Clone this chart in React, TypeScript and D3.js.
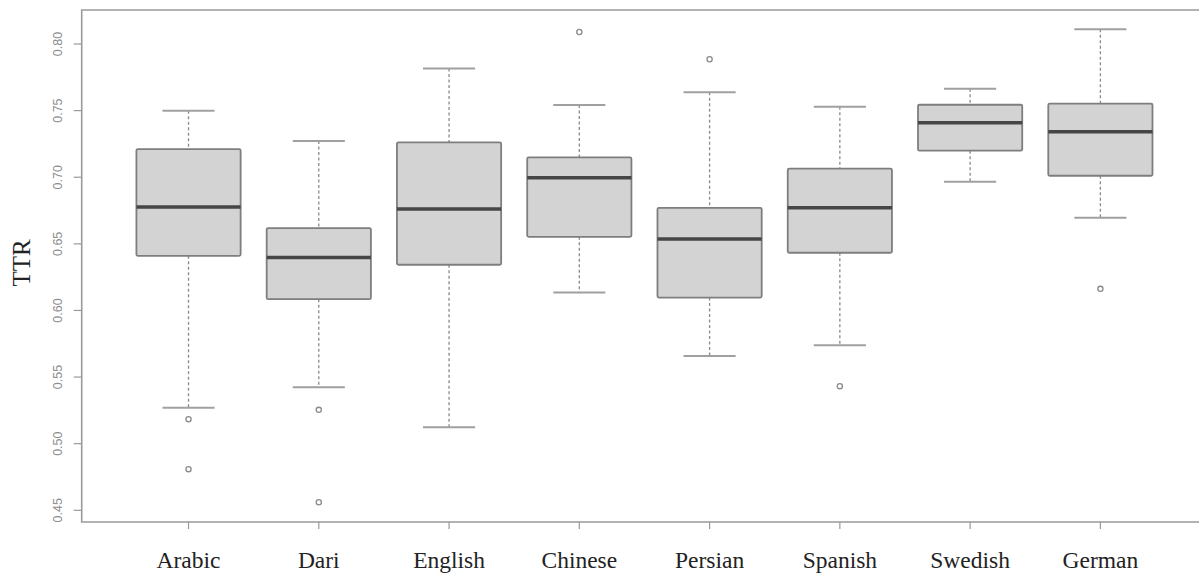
import React from "react";
import * as d3 from "d3";

const categories = ["Arabic", "Dari", "English", "Chinese", "Persian", "Spanish", "Swedish", "German"];
const whiskerLow = [0.5269, 0.5424, 0.5124, 0.6135, 0.5659, 0.5739, 0.6966, 0.6696];
const q1 = [0.641, 0.6085, 0.6343, 0.6553, 0.6097, 0.6433, 0.7199, 0.7011];
const median = [0.6776, 0.6398, 0.6761, 0.6996, 0.6537, 0.677, 0.7409, 0.7341];
const q3 = [0.7211, 0.6618, 0.7262, 0.7149, 0.677, 0.7064, 0.7544, 0.7552];
const whiskerHigh = [0.7499, 0.7272, 0.7817, 0.7542, 0.7637, 0.7529, 0.7664, 0.811];
const outliers: number[][] = [[0.5184, 0.4809], [0.5254, 0.456], [], [0.809], [0.7885], [0.5432], [], [0.6162]];
const yTicks = [0.45, 0.5, 0.55, 0.6, 0.65, 0.7, 0.75, 0.8];
const yLabel = "TTR";

export default function App() {
  const W = 1199, H = 575;
  const left = 81.7, top = 10, bottom = 522;
  const x = d3.scaleLinear().domain([0.18, 8.82]).range([left, 1207.2]);
  const y = d3.scaleLinear().domain([0.45, 0.8]).range([510.3, 44]);
  const unit = x(1) - x(0);
  const boxW = unit * 0.8;
  const capW = unit * 0.4;
  const grey = "#8a8a8a";
  return (
    <svg width={W} height={H} style={{ position: "absolute", left: 0, top: 0, background: "#fff" }}>
      {/* frame */}
      <path d={`M${W + 5},${top}H${left}V${bottom}H${W + 5}`} fill="none" stroke="#9a9a9a" strokeWidth={1.6} />
      {/* y axis ticks */}
      {yTicks.map((t) => (
        <g key={t}>
          <line x1={left - 8} x2={left} y1={y(t)} y2={y(t)} stroke="#9a9a9a" strokeWidth={1.2} />
          <text
            transform={`translate(${62},${y(t)}) rotate(-90)`}
            textAnchor="middle"
            fontFamily="Liberation Sans, Arial, sans-serif"
            fontSize={12.5}
            fill="#8c8c8c"
          >
            {t.toFixed(2)}
          </text>
        </g>
      ))}
      <text
        transform={`translate(${30},${263}) rotate(-90)`}
        textAnchor="middle"
        fontFamily="Liberation Serif, Times New Roman, serif"
        fontSize={25}
        fill="#222"
      >
        {yLabel}
      </text>
      {categories.map((c, i) => {
        const cx = x(i + 1);
        return (
          <g key={c}>
            <line x1={cx} x2={cx} y1={bottom} y2={bottom + 7} stroke="#9a9a9a" strokeWidth={1.2} />
            <text
              x={cx}
              y={568}
              textAnchor="middle"
              fontFamily="Liberation Serif, Times New Roman, serif"
              fontSize={23.5}
              fill="#222"
            >
              {c}
            </text>
            {/* whiskers */}
            <line x1={cx} x2={cx} y1={y(whiskerHigh[i])} y2={y(q3[i])} stroke={grey} strokeWidth={1.3} strokeDasharray="3,2.5" />
            <line x1={cx} x2={cx} y1={y(q1[i])} y2={y(whiskerLow[i])} stroke={grey} strokeWidth={1.3} strokeDasharray="3,2.5" />
            <line x1={cx - capW / 2} x2={cx + capW / 2} y1={y(whiskerHigh[i])} y2={y(whiskerHigh[i])} stroke="#a0a0a0" strokeWidth={2} />
            <line x1={cx - capW / 2} x2={cx + capW / 2} y1={y(whiskerLow[i])} y2={y(whiskerLow[i])} stroke="#a0a0a0" strokeWidth={2} />
            {/* box */}
            <rect
              x={cx - boxW / 2}
              y={y(q3[i])}
              width={boxW}
              height={y(q1[i]) - y(q3[i])}
              fill="#d3d3d3"
              stroke="#7e7e7e"
              strokeWidth={1.8}
              rx={1.5}
            />
            <line x1={cx - boxW / 2} x2={cx + boxW / 2} y1={y(median[i])} y2={y(median[i])} stroke="#464646" strokeWidth={3.5} />
            {outliers[i].map((o, j) => (
              <circle key={j} cx={cx} cy={y(o)} r={2.6} fill="none" stroke="#8a8a8a" strokeWidth={1.3} />
            ))}
          </g>
        );
      })}
    </svg>
  );
}
